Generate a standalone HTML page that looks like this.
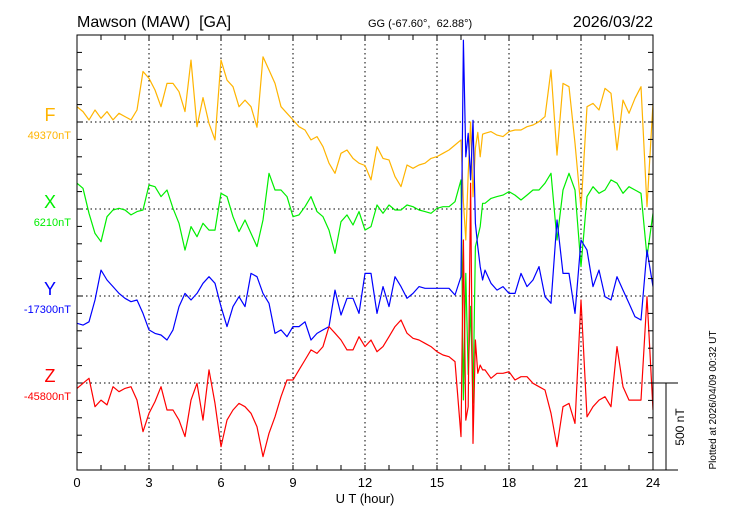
<!DOCTYPE html>
<html><head><meta charset="utf-8">
<style>
html,body{margin:0;padding:0;background:#fff;}
svg{display:block;font-family:"Liberation Sans",Arial,sans-serif;}
</style></head>
<body>
<svg id="chart" width="730" height="520" viewBox="0 0 730 520" xmlns="http://www.w3.org/2000/svg">
<text x="77" y="27" font-size="16" xml:space="preserve">Mawson (MAW)  [GA]</text>
<text x="368" y="27" font-size="11" xml:space="preserve">GG (-67.60°,  62.88°)</text>
<text x="653" y="27" font-size="16" text-anchor="end">2026/03/22</text>
<text x="365" y="503" font-size="13" text-anchor="middle">U T (hour)</text>
<text transform="translate(716,400) rotate(-90)" font-size="10" text-anchor="middle">Plotted at 2026/04/09 00:32 UT</text>
<g id="grid"></g>
<g id="series"></g>
<g id="axes"></g>
<g id="labels"></g>
</svg>
<script>
// time axis (hours)
const hours = [];
for (let h = 0; h < 16; h += 0.25) hours.push(h);
for (let i = 0; i < 10; i++) hours.push(16 + i * 0.1);
for (let h = 17; h <= 24.001; h += 0.25) hours.push(h);

const xTicks = [0, 3, 6, 9, 12, 15, 18, 21, 24];
const seriesNames = ["F", "X", "Y", "Z"];
const baselineLabels = ["49370nT", "6210nT", "-17300nT", "-45800nT"];

// deviations from baseline (nT)
const fVals = [88,60,12,69,21,60,12,50,31,12,69,290,251,184,88,222,222,174,60,356,-27,140,-8,-103,356,241,203,88,126,88,-30,375,299,222,88,50,12,-27,-46,-103,-84,-142,-237,-295,-180,-161,-209,-237,-250,-333,-142,-209,-218,-314,-371,-247,-266,-247,-237,-209,-199,-180,-161,-132,
 -103,-460,-678,-300,0,-430,-150,-60,-200,-70,
 -65,-55,-75,-84,-55,-46,-46,-27,-17,2,31,299,-190,222,203,-122,-500,88,107,69,193,165,-161,126,50,136,203,-487,107];
const xVals = [148,119,-25,-140,-188,-44,-6,4,-6,-34,-15,-6,138,128,71,109,4,-82,-236,-101,-159,-82,-121,-121,90,71,-44,-130,-63,-140,-216,-63,205,109,109,71,-44,-34,13,71,-15,-44,-121,-255,-73,-34,-92,-15,-121,-101,23,-25,23,-6,-6,23,13,-6,-15,-25,4,13,13,42,
 167,-1097,-370,-950,-560,-1116,-216,-159,-101,33,
 33,61,71,80,100,80,52,80,109,109,148,205,-178,109,205,109,-331,71,128,90,109,167,148,90,128,109,90,-274,-25];
const yVals = [-157,-167,-148,-23,149,92,54,15,-13,-33,-23,-100,-195,-215,-224,-253,-195,-61,15,-23,15,73,111,73,-61,-176,-61,-4,-61,130,111,15,-42,-215,-195,-234,-176,-176,-148,-253,-215,-195,-176,34,-109,-13,-13,-100,130,130,-100,54,-61,111,54,-13,15,54,44,44,44,44,44,6,
 111,1470,800,935,667,1010,418,283,169,92,
 149,73,34,54,15,15,130,54,92,169,-4,-42,437,130,130,-100,322,264,54,149,-4,-23,111,34,-42,-119,-138,264,54];
const zVals = [-31,-2,27,-136,-98,-126,-21,-50,-31,-21,-98,-280,-174,-107,-21,-155,-155,-213,-308,-98,-2,-213,75,-117,-366,-213,-155,-117,-136,-174,-251,-423,-289,-194,-79,17,17,75,132,190,170,209,324,286,247,190,190,266,209,247,180,209,266,324,362,286,257,247,228,209,180,161,151,123,
 -308,822,-213,-136,1148,-347,247,56,103,75,
 75,27,56,56,65,17,36,36,-2,-21,-40,-174,-366,-136,-117,-232,477,-194,-136,-98,-79,-136,209,-21,-98,-98,-98,496,-155];

const seriesData = [fVals, xVals, yVals, zVals];
const colors = ["#ffb400", "#00ee00", "#0000ff", "#ff0000"];

const X0 = 77, X1 = 653, Y0 = 35, Y1 = 470;
const pxPerNT = 87 / 500;
const baselines = [122, 209, 296, 383];
const xScale = h => X0 + (h / 24) * (X1 - X0);
const yScale = (v, i) => baselines[i] - v * pxPerNT;

const NS = "http://www.w3.org/2000/svg";
function mk(tag, attrs, parent) {
  const e = document.createElementNS(NS, tag);
  for (const k in attrs) e.setAttribute(k, attrs[k]);
  parent.appendChild(e);
  return e;
}
const svg = document.getElementById("chart");
const grid = document.getElementById("grid");
const series = document.getElementById("series");
const axes = document.getElementById("axes");
const labels = document.getElementById("labels");

const defs = mk("defs", {}, svg);
const cp = mk("clipPath", {id: "plotclip"}, defs);
mk("rect", {x: X0, y: Y0, width: X1 - X0, height: Y1 - Y0}, cp);

xTicks.slice(1, -1).forEach(h => {
  const l = mk("line", {x1: xScale(h), x2: xScale(h), y1: Y0, y2: Y1, stroke: "#000", "stroke-width": 1, "stroke-dasharray": "1.5,3"}, grid);
  
  
});
baselines.forEach((b, i) => {
  const l = mk("line", {x1: X0, x2: X1, y1: b, y2: b, stroke: "#000", "stroke-width": 1, "stroke-dasharray": "1.5,3"}, grid);
  
  
});

series.setAttribute("clip-path", "url(#plotclip)");
seriesData.forEach((vals, i) => {
  let d = "";
  vals.forEach((v, j) => {
    d += (j ? "L" : "M") + xScale(hours[j]).toFixed(1) + "," + yScale(v, i).toFixed(1);
  });
  const p = mk("path", {d: d, fill: "none", stroke: colors[i], "stroke-width": 1.2, "stroke-linejoin": "round"}, series);
  
  
});

const fr = mk("rect", {x: X0, y: Y0, width: X1 - X0, height: Y1 - Y0, fill: "none", stroke: "#000", "stroke-width": 1}, axes);


for (let h = 1; h < 24; h++) {
  const x = xScale(h);
  const len = 5;
  const t1 = mk("line", {x1: x, x2: x, y1: Y1, y2: Y1 - len, stroke: "#000"}, axes);
  
  
  const t2 = mk("line", {x1: x, x2: x, y1: Y0, y2: Y0 + len, stroke: "#000"}, axes);
  
  
}
xTicks.forEach(h => {
  const t = mk("text", {x: xScale(h), y: 487, "font-size": 13, "text-anchor": "middle"}, axes);
  t.textContent = String(h);
  
  
});
for (let y = Y0 + 100 * pxPerNT; y < Y1 - 1; y += 100 * pxPerNT) {
  const a = mk("line", {x1: X0, x2: X0 + 5, y1: y, y2: y, stroke: "#000"}, axes);
  
  
  const b = mk("line", {x1: X1, x2: X1 - 5, y1: y, y2: y, stroke: "#000"}, axes);
  
  
}
const sb1 = mk("line", {x1: X1, x2: 678, y1: 383, y2: 383, stroke: "#000"}, axes);


const sb2 = mk("line", {x1: 666, x2: 666, y1: 383, y2: Y1, stroke: "#000"}, axes);


const sb3 = mk("line", {x1: X1, x2: 678, y1: Y1, y2: Y1, stroke: "#000"}, axes);


const sbt = mk("text", {transform: "translate(684,427) rotate(-90)", "font-size": 12, "text-anchor": "middle"}, axes);
sbt.textContent = "500 nT";



seriesNames.forEach((n, i) => {
  const t = mk("text", {x: 50, y: baselines[i] - 1, "font-size": 18, "text-anchor": "middle", fill: colors[i]}, labels);
  t.textContent = n;
  
  
  const b = mk("text", {x: 71, y: baselines[i] + 17, "font-size": 11, "text-anchor": "end", fill: colors[i]}, labels);
  b.textContent = baselineLabels[i];
  
  
});
</script>
</body></html>
